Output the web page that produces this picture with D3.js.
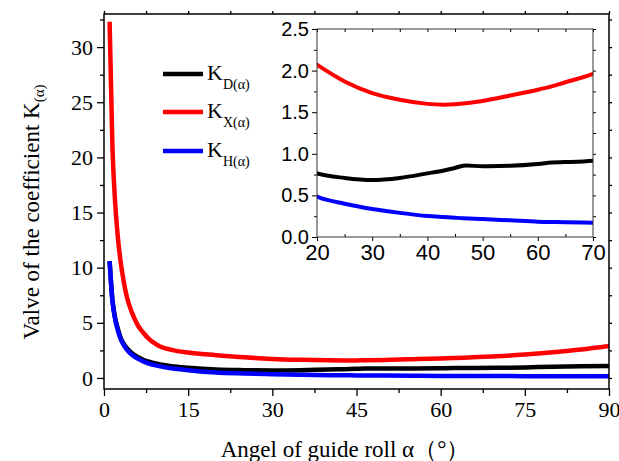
<!DOCTYPE html>
<html>
<head>
<meta charset="utf-8">
<script src="https://cdn.jsdelivr.net/npm/d3@7"></script>
<style>
  body { margin: 0; background: #fff; }
  svg { display: block; }
</style>
</head>
<body>
<script>
// angle of guide roll (deg)
const alphaVals = [1, 1.5, 2, 2.5, 3, 3.5, 4, 5, 6, 7, 8, 9, 10, 12, 15, 20, 25, 30, 35, 40, 43, 45, 46.5, 50, 55, 60, 62.5, 65, 70, 75, 80, 85, 90];
const kD = [10.6, 7.1, 5.4, 4.4, 3.6, 3.1, 2.75, 2.25, 1.9, 1.65, 1.47, 1.33, 1.22, 1.06, 0.92, 0.765, 0.71, 0.685, 0.71, 0.765, 0.80, 0.83, 0.857, 0.85, 0.855, 0.877, 0.895, 0.90, 0.917, 0.96, 1.02, 1.06, 1.085];
const kX = [32.3, 21.0, 15.8, 12.6, 10.4, 8.8, 7.5, 5.9, 4.8, 4.1, 3.55, 3.15, 2.85, 2.55, 2.3, 2.07, 1.87, 1.73, 1.65, 1.60, 1.59, 1.595, 1.605, 1.635, 1.70, 1.77, 1.81, 1.86, 1.96, 2.12, 2.33, 2.58, 2.9];
const kH = [10.6, 7.0, 5.3, 4.25, 3.5, 3.0, 2.6, 2.1, 1.75, 1.5, 1.3, 1.16, 1.05, 0.88, 0.7, 0.485, 0.40, 0.337, 0.29, 0.252, 0.24, 0.232, 0.226, 0.216, 0.20, 0.184, 0.18, 0.177, 0.172, 0.165, 0.16, 0.155, 0.15];

const xTicks = [0, 15, 30, 45, 60, 75, 90];
const yTicks = [0, 5, 10, 15, 20, 25, 30];
const insetXTicks = [20, 30, 40, 50, 60, 70];
const insetYTicks = [0, 0.5, 1.0, 1.5, 2.0, 2.5];

const seriesList = [
  { key: 'D', values: kD, color: '#000000' },
  { key: 'X', values: kX, color: '#ff0000' },
  { key: 'H', values: kH, color: '#0000ff' }
];

const W = 619, H = 461;
const main = { left: 104, right: 609, top: 14, bottom: 389 };
const inset = { left: 317, right: 593, top: 29, bottom: 237 };

const svg = d3.select('body').append('svg')
  .attr('width', W)
  .attr('height', H);

const serif = '"Liberation Serif", "Times New Roman", serif';
const sans = '"Liberation Sans", Arial, sans-serif';

// ---- main plot ----
const x = d3.scaleLinear().domain([0, 90]).range([main.left, main.right]);
const y = d3.scaleLinear().domain([-1, 33]).range([main.bottom, main.top]);

const defs = svg.append('defs');
defs.append('clipPath').attr('id', 'clipMain')
  .append('rect')
  .attr('x', main.left).attr('y', main.top)
  .attr('width', main.right - main.left).attr('height', main.bottom - main.top);
defs.append('clipPath').attr('id', 'clipInset')
  .append('rect')
  .attr('x', inset.left).attr('y', inset.top)
  .attr('width', inset.right - inset.left).attr('height', inset.bottom - inset.top);

function pts(values) {
  return alphaVals.map(function(a, i) { return [a, values[i]]; });
}

const mainLine = d3.line()
  .x(function(d) { return x(d[0]); })
  .y(function(d) { return y(d[1]); })
  .curve(d3.curveMonotoneX);

svg.append('g').attr('clip-path', 'url(#clipMain)')
  .selectAll('path')
  .data(seriesList)
  .join('path')
  .attr('d', function(s) { return mainLine(pts(s.values)); })
  .attr('fill', 'none')
  .attr('stroke', function(s) { return s.color; })
  .attr('stroke-width', 4.5);

function minorRange(a, b, step) {
  return d3.range(a, b + step / 2, step);
}

// axes, major + minor
function styleAxis(g, font, size) {
  g.select('.domain').remove();
  g.selectAll('line').attr('stroke', '#000').attr('stroke-width', 1.3);
  g.selectAll('text').attr('font-family', font).attr('font-size', size).attr('fill', '#000');
}

const gx = svg.append('g').attr('transform', 'translate(0,' + main.bottom + ')')
  .call(d3.axisBottom(x).tickValues(xTicks).tickSize(7).tickPadding(5).tickFormat(d3.format('d')));
styleAxis(gx, serif, 22);
svg.append('g').attr('transform', 'translate(0,' + main.bottom + ')')
  .call(d3.axisBottom(x).tickValues(minorRange(7.5, 82.5, 15)).tickSize(4).tickFormat(''))
  .call(function(g) { styleAxis(g, serif, 22); });

const gy = svg.append('g').attr('transform', 'translate(' + main.left + ',0)')
  .call(d3.axisLeft(y).tickValues(yTicks).tickSize(7).tickPadding(4).tickFormat(d3.format('d')));
styleAxis(gy, serif, 22);
svg.append('g').attr('transform', 'translate(' + main.left + ',0)')
  .call(d3.axisLeft(y).tickValues(minorRange(2.5, 32.5, 5)).tickSize(4).tickFormat(''))
  .call(function(g) { styleAxis(g, serif, 22); });

// mirrored small ticks on top / right
svg.append('g').attr('transform', 'translate(0,' + main.top + ')')
  .call(d3.axisTop(x).tickValues(minorRange(0, 90, 7.5)).tickSize(3).tickFormat(''))
  .call(function(g) { styleAxis(g, serif, 22); });
svg.append('g').attr('transform', 'translate(' + main.right + ',0)')
  .call(d3.axisRight(y).tickValues(minorRange(0, 32.5, 2.5)).tickSize(3).tickFormat(''))
  .call(function(g) { styleAxis(g, serif, 22); });

svg.append('rect')
  .attr('x', main.left).attr('y', main.top)
  .attr('width', main.right - main.left).attr('height', main.bottom - main.top)
  .attr('fill', 'none').attr('stroke', '#000').attr('stroke-width', 1.5);

// axis titles
svg.append('text')
  .attr('x', 345)
  .attr('y', 457)
  .attr('text-anchor', 'middle')
  .attr('font-family', serif)
  .attr('font-size', 23)
  .text('Angel of guide roll α（°）');

const yTitle = svg.append('text')
  .attr('transform', 'translate(39,212) rotate(-90)')
  .attr('text-anchor', 'middle')
  .attr('font-family', serif)
  .attr('font-size', 23);
yTitle.append('tspan').text('Valve of the coefficient K');
yTitle.append('tspan').attr('font-size', 15).attr('dy', 5).text('(α)');

// legend
const legend = svg.append('g');
const legY = [74, 112, 151];
seriesList.forEach(function(s, i) {
  legend.append('line')
    .attr('x1', 163).attr('x2', 203)
    .attr('y1', legY[i]).attr('y2', legY[i])
    .attr('stroke', s.color).attr('stroke-width', 4.5);
  const t = legend.append('text')
    .attr('x', 207).attr('y', legY[i] + 6)
    .attr('font-family', serif)
    .attr('font-size', 22);
  t.append('tspan').text('K');
  t.append('tspan').attr('font-size', 14).attr('dy', 9).text(s.key + '(α)');
});

// ---- inset ----
const xi = d3.scaleLinear().domain([20, 70]).range([inset.left, inset.right]);
const yi = d3.scaleLinear().domain([0, 2.5]).range([inset.bottom, inset.top]);

svg.append('rect')
  .attr('x', inset.left).attr('y', inset.top)
  .attr('width', inset.right - inset.left).attr('height', inset.bottom - inset.top)
  .attr('fill', '#fff');

const insetLine = d3.line()
  .x(function(d) { return xi(d[0]); })
  .y(function(d) { return yi(d[1]); })
  .curve(d3.curveCatmullRom.alpha(0.5));

svg.append('g').attr('clip-path', 'url(#clipInset)')
  .selectAll('path')
  .data(seriesList)
  .join('path')
  .attr('d', function(s) {
    return insetLine(pts(s.values).filter(function(p) { return p[0] >= 15 && p[0] <= 75; }));
  })
  .attr('fill', 'none')
  .attr('stroke', function(s) { return s.color; })
  .attr('stroke-width', 4);

const gxi = svg.append('g').attr('transform', 'translate(0,' + inset.bottom + ')')
  .call(d3.axisBottom(xi).tickValues(insetXTicks).tickSize(4).tickPadding(3).tickFormat(d3.format('d')));
styleAxis(gxi, sans, 22);
gxi.selectAll('line').attr('stroke-width', 1);
svg.append('g').attr('transform', 'translate(0,' + inset.bottom + ')')
  .call(d3.axisTop(xi).tickValues(minorRange(25, 65, 10)).tickSize(3).tickFormat(''))
  .call(function(g) { styleAxis(g, sans, 22); g.selectAll('line').attr('stroke-width', 1); });

const gyi = svg.append('g').attr('transform', 'translate(' + inset.left + ',0)')
  .call(d3.axisLeft(yi).tickValues(insetYTicks).tickSize(5).tickPadding(3).tickFormat(d3.format('.1f')));
styleAxis(gyi, sans, 20);
gyi.selectAll('line').attr('stroke-width', 1);
svg.append('g').attr('transform', 'translate(' + inset.left + ',0)')
  .call(d3.axisLeft(yi).tickValues(minorRange(0.25, 2.25, 0.5)).tickSize(3).tickFormat(''))
  .call(function(g) { styleAxis(g, sans, 20); g.selectAll('line').attr('stroke-width', 1); });

svg.append('g').attr('transform', 'translate(0,' + inset.top + ')')
  .call(d3.axisBottom(xi).tickValues(minorRange(20, 70, 5)).tickSize(3).tickFormat(''))
  .call(function(g) { styleAxis(g, sans, 20); g.selectAll('line').attr('stroke-width', 1); });
svg.append('g').attr('transform', 'translate(' + inset.right + ',0)')
  .call(d3.axisRight(yi).tickValues(minorRange(0, 2.5, 0.25)).tickSize(3).tickFormat(''))
  .call(function(g) { styleAxis(g, sans, 20); g.selectAll('line').attr('stroke-width', 1); });

svg.append('rect')
  .attr('x', inset.left).attr('y', inset.top)
  .attr('width', inset.right - inset.left).attr('height', inset.bottom - inset.top)
  .attr('fill', 'none').attr('stroke', '#333').attr('stroke-width', 1);
</script>
</body>
</html>
